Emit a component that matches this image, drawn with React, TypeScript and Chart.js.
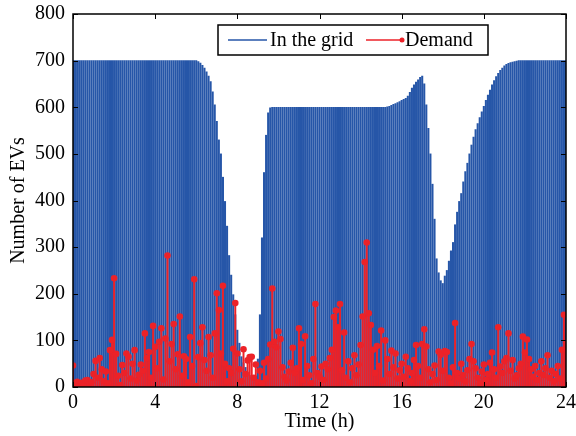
import React, { useEffect, useRef } from 'react';
import { Chart, registerables } from 'chart.js';

Chart.register(...registerables);

// Sampling interval of both series (hours)
const STEP_H = 0.1;

// Number of EVs connected to the grid, t = 0.0 .. 24.0 h
const IN_GRID = [
  700, 700, 700, 700, 700, 700, 700, 700, 700, 700,
  700, 700, 700, 700, 700, 700, 700, 700, 700, 700,
  700, 700, 700, 700, 700, 700, 700, 700, 700, 700,
  700, 700, 700, 700, 700, 700, 700, 700, 700, 700,
  700, 700, 700, 700, 700, 700, 700, 700, 700, 700,
  700, 700, 700, 700, 700, 700, 700, 700, 700, 700,
  700, 698, 695, 690, 684, 676, 667, 655, 633, 605,
  570, 530, 500, 450, 398, 345, 282, 240, 198, 155,
  122, 94, 65, 52, 42, 32, 25, 20, 18, 22,
  60, 155, 320, 460, 540, 588, 599, 600, 600, 600,
  600, 600, 600, 600, 600, 600, 600, 600, 600, 600,
  600, 600, 600, 600, 600, 600, 600, 600, 600, 600,
  600, 600, 600, 600, 600, 600, 600, 600, 600, 600,
  600, 600, 600, 600, 600, 600, 600, 600, 600, 600,
  600, 600, 600, 600, 600, 600, 600, 600, 600, 600,
  600, 600, 600, 601, 602, 604, 606, 608, 610, 612,
  615, 617, 619, 624, 632, 641, 648, 654, 659, 664,
  667, 650, 605, 555, 500, 435, 360, 275, 245, 228,
  222, 238, 250, 270, 292, 310, 348, 375, 398, 415,
  440, 462, 480, 500, 519, 536, 552, 565, 578, 590,
  602, 615, 626, 637, 648, 657, 666, 673, 679, 684,
  689, 692, 694, 696, 697, 698, 699, 700, 700, 700,
  700, 700, 700, 700, 700, 700, 700, 700, 700, 700,
  700, 700, 700, 700, 700, 700, 700, 700, 700, 700,
  700,
];

// Charging demand, t = 0.0 .. 24.0 h
const DEMAND = [
  46, 8, 11, 5, 9, 3, 14, 15, 6, 10,
  28, 56, 20, 62, 38, 12, 33, 8, 79, 101,
  233, 71, 24, 4, 47, 30, 72, 65, 18, 50,
  79, 14, 26, 48, 35, 115, 62, 75, 20, 131,
  86, 40, 97, 126, 16, 104, 282, 55, 92, 135,
  38, 70, 151, 24, 66, 60, 10, 107, 45, 231,
  2, 64, 94, 128, 58, 35, 107, 68, 20, 115,
  201, 165, 72, 217, 50, 12, 40, 30, 82, 180,
  72, 38, 12, 81, 28, 57, 64, 65, 20, 48,
  10, 35, 8, 52, 18, 60, 91, 211, 97, 85,
  119, 103, 42, 22, 14, 33, 52, 84, 30, 40,
  126, 92, 15, 109, 45, 25, 8, 60, 178, 30,
  22, 44, 15, 50, 38, 62, 80, 150, 164, 128,
  178, 36, 117, 20, 55, 10, 40, 68, 25, 48,
  90, 151, 268, 310, 158, 133, 80, 30, 88, 45,
  121, 14, 100, 60, 28, 78, 42, 72, 18, 36,
  50, 22, 65, 40, 12, 30, 58, 90, 45, 20,
  92, 124, 87, 38, 10, 28, 46, 15, 76, 69,
  35, 77, 75, 20, 8, 42, 137, 30, 18, 50,
  25, 12, 36, 60, 92, 55, 40, 20, 8, 33,
  48, 15, 28, 52, 74, 38, 20, 128, 44, 30,
  55, 62, 115, 35, 58, 18, 25, 40, 50, 108,
  74, 102, 60, 38, 22, 45, 15, 30, 55, 26,
  40, 68, 20, 35, 12, 28, 45, 18, 80, 155,
  95,
];

const X_TICKS = [0, 4, 8, 12, 16, 20, 24];
const Y_TICKS = [0, 100, 200, 300, 400, 500, 600, 700, 800];
const SERIES_NAMES = ['In the grid', 'Demand'];
const X_TITLE = 'Time (h)';
const Y_TITLE = 'Number of EVs';

const BLUE = 'rgb(38, 86, 168)';
const RED = 'rgb(236, 34, 40)';
const FONT_FAMILY = "'Liberation Serif', 'Times New Roman', serif";
const FONT_SIZE = 20;

const framePlugin = {
  id: 'frameAndLegend',
  afterDraw(chart: any) {
    const { ctx, chartArea: a, scales } = chart;
    const x = scales.x;
    const y = scales.y;
    ctx.save();
    // box
    ctx.strokeStyle = '#000';
    ctx.lineWidth = 1.5;
    ctx.strokeRect(a.left, a.top, a.right - a.left, a.bottom - a.top);
    // inward ticks
    ctx.lineWidth = 1;
    const L = 5;
    ctx.beginPath();
    X_TICKS.forEach((v) => {
      const px = Math.round(x.getPixelForValue(v)) + 0.5;
      ctx.moveTo(px, a.bottom);
      ctx.lineTo(px, a.bottom - L);
      ctx.moveTo(px, a.top);
      ctx.lineTo(px, a.top + L);
    });
    Y_TICKS.forEach((v) => {
      const py = Math.round(y.getPixelForValue(v)) + 0.5;
      ctx.moveTo(a.left, py);
      ctx.lineTo(a.left + L, py);
      ctx.moveTo(a.right, py);
      ctx.lineTo(a.right - L, py);
    });
    ctx.stroke();

    // legend
    const bx = a.left + 145;
    const by = a.top + 11;
    const bw = 270;
    const bh = 30;
    ctx.fillStyle = '#fff';
    ctx.fillRect(bx, by, bw, bh);
    ctx.lineWidth = 1.5;
    ctx.strokeStyle = '#000';
    ctx.strokeRect(bx, by, bw, bh);
    const my = by + bh / 2;
    ctx.lineWidth = 1.5;
    ctx.strokeStyle = BLUE;
    ctx.beginPath();
    ctx.moveTo(bx + 10, my);
    ctx.lineTo(bx + 49, my);
    ctx.stroke();
    ctx.font = `${FONT_SIZE}px ${FONT_FAMILY}`;
    ctx.fillStyle = '#000';
    ctx.textBaseline = 'middle';
    ctx.textAlign = 'left';
    ctx.fillText(SERIES_NAMES[0], bx + 52, my + 1);
    ctx.strokeStyle = RED;
    ctx.beginPath();
    ctx.moveTo(bx + 148, my);
    ctx.lineTo(bx + 184, my);
    ctx.stroke();
    ctx.fillStyle = RED;
    ctx.beginPath();
    ctx.arc(bx + 184, my, 2.5, 0, Math.PI * 2);
    ctx.fill();
    ctx.fillStyle = '#000';
    ctx.fillText(SERIES_NAMES[1], bx + 187, my + 1);
    ctx.restore();
  },
};

export default function App() {
  const canvasRef = useRef<HTMLCanvasElement | null>(null);

  useEffect(() => {
    const canvas = canvasRef.current;
    if (!canvas) return;
    const gridPts = IN_GRID.map((v, i) => ({ x: i * STEP_H, y: v }));
    const demandPts = DEMAND.map((v, i) => ({ x: i * STEP_H, y: v }));
    const font = { family: FONT_FAMILY, size: FONT_SIZE };

    const chart = new Chart(canvas, {
      type: 'bar',
      data: {
        datasets: [
          {
            type: 'line',
            label: SERIES_NAMES[1] + ' markers',
            data: demandPts,
            showLine: false,
            pointRadius: 3.3,
            pointBorderWidth: 0,
            pointBackgroundColor: RED,
            pointBorderColor: RED,
            order: 1,
          } as any,
          {
            type: 'bar',
            label: SERIES_NAMES[1],
            data: demandPts,
            backgroundColor: RED,
            borderWidth: 0,
            barThickness: 1.3,
            grouped: false,
            order: 2,
          } as any,
          {
            type: 'bar',
            label: SERIES_NAMES[0],
            data: gridPts,
            backgroundColor: BLUE,
            borderWidth: 0,
            barThickness: 1.4,
            grouped: false,
            order: 3,
          } as any,
        ],
      },
      options: {
        responsive: false,
        animation: false,
        devicePixelRatio: 1,
        layout: { padding: { top: 14, right: 10, left: 0, bottom: 0 } },
        plugins: {
          legend: { display: false },
          tooltip: { enabled: false },
        },
        scales: {
          x: {
            type: 'linear',
            min: 0,
            max: 24,
            offset: false,
            grid: { display: false, drawTicks: false },
            border: { display: false },
            ticks: {
              stepSize: 4,
              color: '#000',
              font,
              padding: 4,
              maxRotation: 0,
              autoSkip: false,
            },
            title: {
              display: true,
              text: X_TITLE,
              color: '#000',
              font,
              padding: { top: 0, bottom: 2 },
            },
            afterFit: (s: any) => {
              s.height = 49;
              s.paddingLeft = 0;
              s.paddingRight = 0;
            },
          },
          y: {
            type: 'linear',
            min: 0,
            max: 800,
            grid: { display: false, drawTicks: false },
            border: { display: false },
            ticks: {
              stepSize: 100,
              color: '#000',
              font,
              padding: 8,
            },
            title: {
              display: true,
              text: Y_TITLE,
              color: '#000',
              font,
              padding: { top: 7, bottom: 0 },
            },
            afterFit: (s: any) => {
              s.width = 73;
              s.paddingTop = 0;
              s.paddingBottom = 0;
            },
          },
        },
      } as any,
      plugins: [framePlugin],
    });
    return () => chart.destroy();
  }, []);

  return (
    <div style={{ position: 'fixed', left: 0, top: 0, width: 576, height: 436, background: '#fff' }}>
      <canvas ref={canvasRef} width={576} height={436} />
    </div>
  );
}
